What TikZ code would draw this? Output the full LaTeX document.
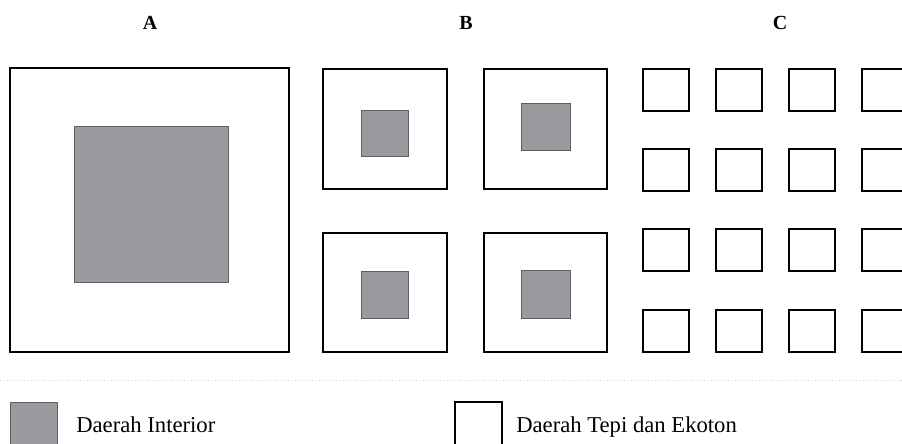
\documentclass[tikz,border=0pt]{standalone}
\usepackage{fontspec}
\setmainfont{Liberation Serif}
\usetikzlibrary{positioning}
\definecolor{InteriorGray}{RGB}{152,154,158}
\definecolor{InteriorEdge}{RGB}{95,96,100}

\begin{document}
\begin{tikzpicture}[x=0.75pt,y=-0.75pt]
\tikzstyle{patch}=[draw=black,line width=1.5pt,fill=white]
\tikzstyle{core}=[draw=InteriorEdge,line width=0.7pt,fill=InteriorGray]
\tikzstyle{paneltitle}=[font=\fontsize{15}{18}\selectfont\bfseries]
\tikzstyle{legendtext}=[font=\fontsize{17}{20}\selectfont,anchor=base west,inner sep=0pt]
\useasboundingbox (0,0) rectangle (902,443);
\clip (0,0) rectangle (902,443);
% panel titles
\node[paneltitle] (titleA) at (150,23) {A};
\node[paneltitle] (titleB) at (466,23) {B};
\node[paneltitle] (titleC) at (780,23) {C};
% A: one large patch
\draw[patch] (10,68) rectangle (289,352);
\draw[core] (74,126) rectangle (228,282);
% B: four medium patches
\draw[patch] (323,69) rectangle (447,189);
\draw[core] (361,110) rectangle (408,156);
\draw[patch] (484,69) rectangle (607,189);
\draw[core] (521,103) rectangle (570,150);
\draw[patch] (323,233) rectangle (447,352);
\draw[core] (361,271) rectangle (408,318);
\draw[patch] (484,233) rectangle (607,352);
\draw[core] (521,270) rectangle (570,318);
% C: many small patches, edge only
\foreach \cx in {643,716,789,862}
  \foreach \cy in {69,149,229,310}
    \draw[patch] (\cx,\cy) rectangle ++(46,42);
% separator
\draw[black!18,dotted,line width=0.6pt] (0,380) -- (902,380);
% legend
\draw[core] (10,402) rectangle (57,450);
\node[legendtext] (interior) at (76,432) {Daerah Interior};
\draw[patch] (455,402) rectangle (502,450);
\node[legendtext] (edge) at (516,432) {Daerah Tepi dan Ekoton};
\end{tikzpicture}
\end{document}
